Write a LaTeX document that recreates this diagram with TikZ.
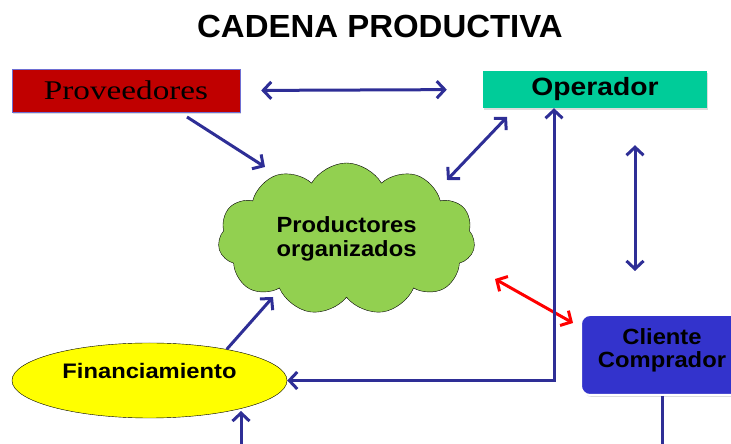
\documentclass[tikz,border=0pt]{standalone}
\usepackage{fontspec}
\setmainfont{Liberation Sans}
\newfontfamily\provfont{Liberation Serif}
\usetikzlibrary{arrows.meta,positioning,shapes.geometric,shapes.symbols,shadows}
\definecolor{arrowblue}{RGB}{46,46,150}
\definecolor{provred}{RGB}{192,0,0}
\definecolor{provedge}{RGB}{110,110,210}
\definecolor{opgreen}{RGB}{0,204,153}
\definecolor{cloudgreen}{RGB}{146,208,80}
\definecolor{clientblue}{RGB}{51,51,204}
\definecolor{finyellow}{RGB}{255,255,0}
\newcommand{\widen}[2]{\scalebox{#1}[1]{#2}}

\begin{document}
\begin{tikzpicture}[x=1pt, y=1pt, font=\bfseries]
\tikzset{
  flow/.style={draw=arrowblue, line width=3pt, -{Straight Barb[length=8pt,width=17pt]}},
  both/.style={flow, {Straight Barb[length=8pt,width=17pt]}-{Straight Barb[length=8pt,width=17pt]}},
  plainbox/.style={rectangle, inner sep=0pt, drop shadow={shadow xshift=1pt, shadow yshift=-2pt, fill=gray!55}},
}
\clip (0,0) rectangle (731,444);
\node[font=\bfseries\fontsize{32}{37}\selectfont] (title) at (380,418) {\widen{1.03}{CADENA PRODUCTIVA}};
\node[plainbox, draw=provedge, fill=provred, minimum width=228pt, minimum height=43pt] (prov) at (126,353.5) {\provfont\mdseries\fontsize{27}{30}\selectfont\widen{1.23}{Proveedores}};
\node[plainbox, fill=opgreen, minimum width=224pt, minimum height=37pt] (oper) at (595,354.5) {\fontsize{25}{28}\selectfont\widen{1.13}{Operador}};
\node[cloud, cloud puffs=11, cloud puff arc=120, aspect=1.7, draw=black, fill=cloudgreen, minimum width=257pt, minimum height=152pt, inner sep=0pt, align=center, font=\bfseries\fontsize{22}{24}\selectfont] (cloud) at (346.5,205) {\widen{1.08}{Productores}\\\widen{1.08}{organizados}};
\node[ellipse, draw=black, fill=finyellow, minimum width=275pt, minimum height=75pt, inner sep=0pt, text depth=20pt, font=\bfseries\fontsize{21}{24}\selectfont] (fin) at (149.5,63.5) {\widen{1.13}{Financiamiento}};
\node[rectangle, rounded corners=9pt, draw=white, line width=2pt, fill=clientblue, minimum width=162pt, minimum height=80pt, align=center, drop shadow={shadow xshift=2pt, shadow yshift=-2pt, fill=gray!55}, font=\bfseries\fontsize{22}{23}\selectfont] (clt) at (662,89) {\widen{1.08}{Cliente}\\\widen{1.08}{Comprador}\\[-9pt]};
\coordinate (bottom) at (0,0);
\coordinate (turn) at (554,63.5);
\coordinate (provout) at (187,327);
\coordinate (cloudin) at (265,277);
\coordinate (operout) at (507,327);
\coordinate (cloudtop) at (447,264);
\coordinate (redtop) at (495,165);
\coordinate (redbot) at (573,121);
\coordinate (cloudlow) at (273,147);
\coordinate (finin) at (241,33);
\draw[both, shorten <=21pt, shorten >=36pt] (prov.east) -- (oper.west);
\draw[flow] (provout) -- (cloudin);
\draw[both] (operout) -- (cloudtop);
\draw[both, shorten <=37pt, shorten >=43pt] ([xshift=40pt]oper.south) -- ([xshift=-27pt]clt.north);
\draw[both, draw=red] (redtop) -- (redbot);
\draw[both] (turn |- oper.south) -- (turn) -- (fin.east);
\draw[flow] (fin.22) -- (cloudlow);
\draw[flow] (finin |- bottom) -- (finin);
\draw[draw=arrowblue, line width=3pt] (clt.south) -- (clt.south |- bottom);
\end{tikzpicture}
\end{document}
